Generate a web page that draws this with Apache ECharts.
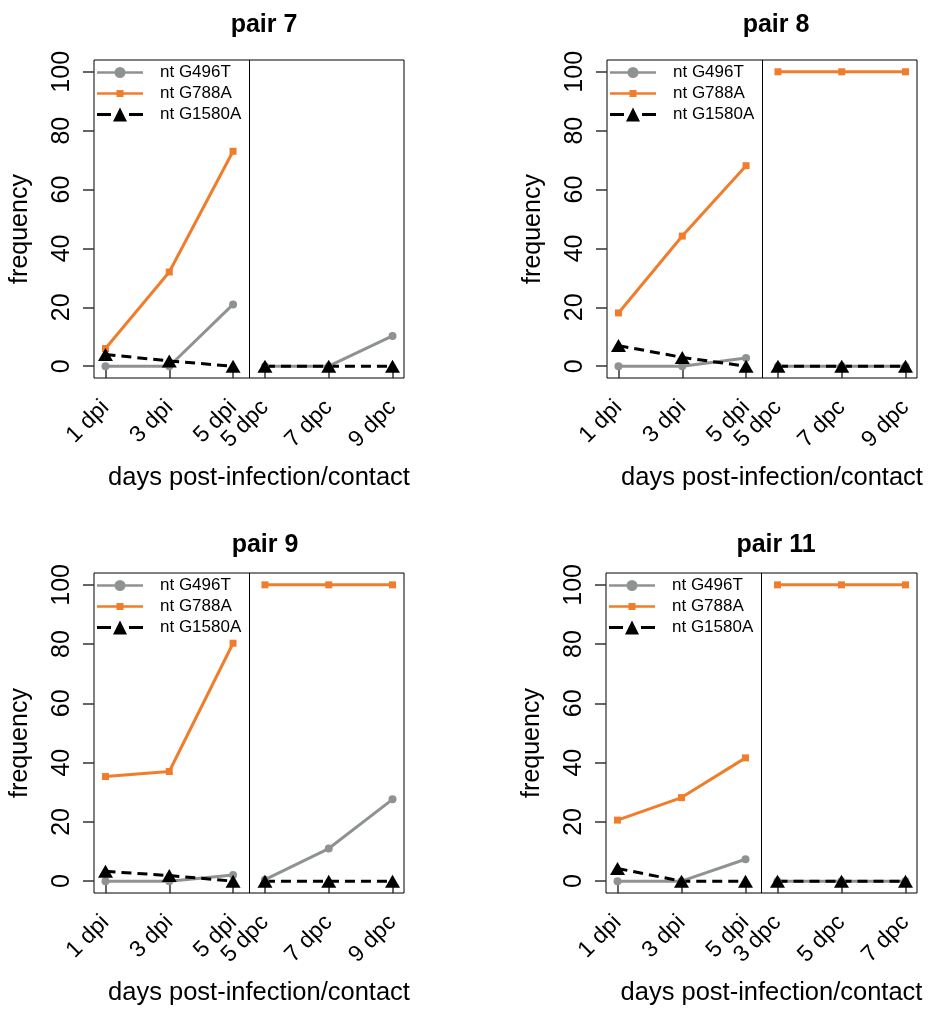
<!DOCTYPE html>
<html>
<head>
<meta charset="utf-8">
<script src="https://cdn.jsdelivr.net/npm/echarts@6/dist/echarts.min.js"></script>
<style>
  html, body { margin: 0; padding: 0; background: #fff; }
  #main { width: 928px; height: 1010px; }
</style>
</head>
<body>
<div id="main"></div>
<script>
// x positions of the sampling days (dpi block, then dpc block)
const xPos = [1, 2, 3, 3.5, 4.5, 5.5];
const dividerX = 3.25;
const mutations = ["nt G496T", "nt G788A", "nt G1580A"];

const panelTitles = ["pair 7", "pair 8", "pair 9", "pair 11"];
const labels7 = ["1 dpi", "3 dpi", "5 dpi", "5 dpc", "7 dpc", "9 dpc"];
const labels8 = ["1 dpi", "3 dpi", "5 dpi", "5 dpc", "7 dpc", "9 dpc"];
const labels9 = ["1 dpi", "3 dpi", "5 dpi", "5 dpc", "7 dpc", "9 dpc"];
const labels11 = ["1 dpi", "3 dpi", "5 dpi", "3 dpc", "5 dpc", "7 dpc"];

// frequencies (%) per pair, null = not measured
const pair7G496T = [0, 0, 21, 0, 0, 10.3];
const pair7G788A = [6, 32, 73, null, null, null];
const pair7G1580A = [4, 1.8, 0, 0, 0, 0];

const pair8G496T = [0, 0, 2.8, 0, 0, 0];
const pair8G788A = [18.1, 44.2, 68.1, 100, 100, 100];
const pair8G1580A = [7, 3, 0, 0, 0, 0];

const pair9G496T = [0, 0, 2.1, 0.5, 11, 27.6];
const pair9G788A = [35.3, 37, 80.3, 100, 100, 100];
const pair9G1580A = [3.3, 1.9, 0, 0, 0, 0];

const pair11G496T = [0, 0, 7.4, 0, 0, 0];
const pair11G788A = [20.6, 28.2, 41.6, 100, 100, 100];
const pair11G1580A = [4.3, 0, 0, 0, 0, 0];

const yTicks = [0, 20, 40, 60, 80, 100];

const panels = [
  { labels: labels7, data: [pair7G496T, pair7G788A, pair7G1580A], box: [94, 60, 310, 318], titleX: 259, titleY: 8 },
  { labels: labels8, data: [pair8G496T, pair8G788A, pair8G1580A], box: [607, 60, 310, 318], titleX: 771, titleY: 8 },
  { labels: labels9, data: [pair9G496T, pair9G788A, pair9G1580A], box: [94, 573, 310, 320], titleX: 260, titleY: 528 },
  { labels: labels11, data: [pair11G496T, pair11G788A, pair11G1580A], box: [606, 573, 311, 320], titleX: 771, titleY: 528 }
];

const font = "'Liberation Sans', Arial, Helvetica, sans-serif";
const styles = [
  { color: "#8e9391", symbol: "circle", size: 8, lineType: "solid" },
  { color: "#ef7d2c", symbol: "rect", size: 7, lineType: "solid" },
  { color: "#000000", symbol: "triangle", size: [15, 13], lineType: [10, 6] }
];

// legend keys drawn as line + marker, 46 x 14 box
const legendIcons = [
  "path://M0 5.8H46V8.2H0Z M28.5 7A5.5 5.5 0 1 1 17.5 7A5.5 5.5 0 1 1 28.5 7Z",
  "path://M0 0L0 0Z M0 5.8H46V8.2H0Z M19.5 3.5H26.5V10.5H19.5Z M0 14L0 14Z",
  "path://M0 5.6H14V8.4H0Z M16 14L23 0L30 14Z M32 5.6H46V8.4H32Z"
];

function toPoints(values) {
  let pts = [];
  for (let i = 0; i < values.length; i++) {
    if (i === 3) pts.push([dividerX, "-"]); // break between dpi and dpc
    pts.push([xPos[i], values[i] === null ? "-" : values[i]]);
  }
  return pts;
}

let grid = [], xAxis = [], yAxis = [], series = [], title = [], legend = [];

panels.forEach(function (p, k) {
  const b = p.box;
  grid.push({
    left: b[0], top: b[1], width: b[2], height: b[3],
    show: true, borderColor: "#000", borderWidth: 1, backgroundColor: "transparent"
  });
  title.push({
    text: panelTitles[k],
    left: p.titleX, top: p.titleY, textAlign: "center",
    textStyle: { fontFamily: font, fontWeight: "bold", fontSize: 25, color: "#000" }
  });
  xAxis.push({
    type: "value", gridIndex: k, min: 0.82, max: 5.68,
    splitLine: { show: false },
    axisLine: { show: false },
    axisTick: { show: true, length: 12, customValues: xPos, lineStyle: { color: "#333", width: 1.5 } },
    axisLabel: {
      show: true, customValues: xPos, rotate: 45, margin: 26,
      fontFamily: font, fontSize: 23, color: "#000",
      formatter: function (v) {
        const i = xPos.indexOf(v);
        return i >= 0 ? p.labels[i] : "";
      }
    },
    name: "days post-infection/contact",
    nameLocation: "middle", nameGap: 87,
    nameTextStyle: { fontFamily: font, fontSize: 25.5, color: "#000", padding: [0, 0, 0, 20] }
  });
  yAxis.push({
    type: "value", gridIndex: k, min: -4, max: 104,
    splitLine: { show: false },
    axisLine: { show: false },
    axisTick: { show: true, length: 11, customValues: yTicks, lineStyle: { color: "#333", width: 1.5 } },
    axisLabel: {
      show: true, customValues: yTicks, rotate: 90, margin: 19,
      fontFamily: font, fontSize: 25, color: "#000"
    },
    name: "frequency",
    nameLocation: "middle", nameGap: 61, nameRotate: 90,
    nameTextStyle: { fontFamily: font, fontSize: 25, color: "#000", padding: [0, 20, 0, 0] }
  });
  legend.push({
    orient: "vertical",
    left: b[0] - 2, top: b[1] - 1,
    itemWidth: 46, itemHeight: 14, itemGap: 4,
    textStyle: { fontFamily: font, fontSize: 17, color: "#000", padding: [0, 0, 0, 12] },
    data: mutations.map(function (name, m) {
      return { name: name, icon: legendIcons[m] };
    })
  });
  for (let m = 0; m < 3; m++) {
    const s = styles[m];
    let ser = {
      name: mutations[m],
      type: "line",
      xAxisIndex: k, yAxisIndex: k,
      data: toPoints(p.data[m]),
      connectNulls: false,
      symbol: s.symbol,
      symbolSize: s.size,
      showAllSymbol: true,
      animation: false,
      lineStyle: { color: s.color, width: 3, type: s.lineType },
      itemStyle: { color: s.color }
    };
    if (m === 0) {
      ser.markLine = {
        silent: true, symbol: "none", animation: false,
        label: { show: false },
        lineStyle: { color: "#000", width: 1, type: "solid" },
        data: [{ xAxis: dividerX }]
      };
    }
    series.push(ser);
  }
});

const myChart = echarts.init(document.getElementById("main"));
const option = {
  backgroundColor: "#fff",
  animation: false,
  title: title,
  legend: legend,
  grid: grid,
  xAxis: xAxis,
  yAxis: yAxis,
  series: series
};
myChart.setOption(option);
</script>
</body>
</html>
